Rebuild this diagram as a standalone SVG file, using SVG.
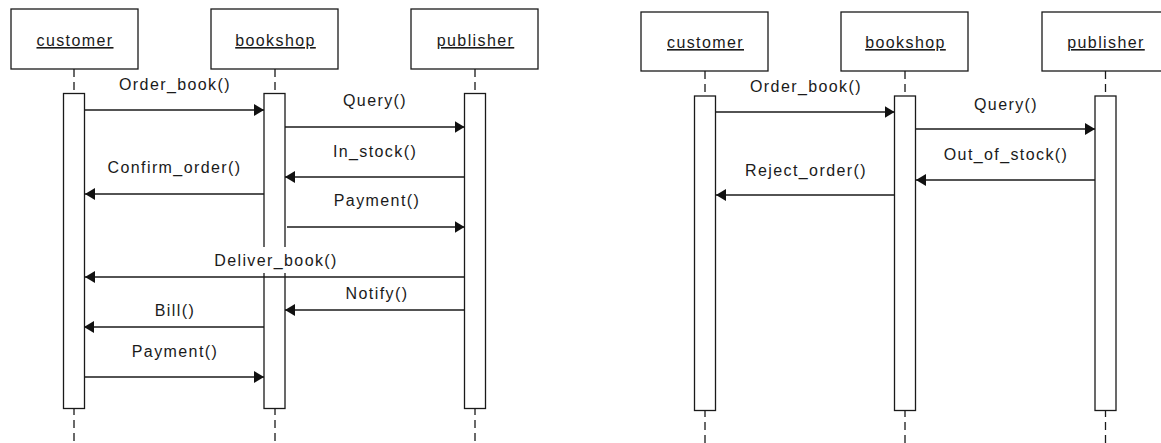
<svg xmlns="http://www.w3.org/2000/svg" width="1161" height="443" viewBox="0 0 1161 443">
<defs>
<style>
.head{fill:#fff;stroke:#1a1a1a;stroke-width:1.3}
.act{fill:#fff;stroke:#1a1a1a;stroke-width:1.3}
.life{stroke:#1a1a1a;stroke-width:1.3;stroke-dasharray:8 5;fill:none}
.msg{stroke:#1a1a1a;stroke-width:1.3;fill:none;marker-end:url(#ah)}
text{font-family:"Liberation Sans",Arial,sans-serif;font-size:16px;letter-spacing:1.4px;fill:#1a1a1a;text-anchor:middle}
.name{text-decoration:underline}
</style>
<marker id="ah" markerUnits="userSpaceOnUse" markerWidth="11" markerHeight="13" refX="10" refY="6" orient="auto">
<path d="M0,0 L10,6 L0,12 z" fill="#111"/>
</marker>
</defs>
<rect width="1161" height="443" fill="#fff"/>

<!-- Left diagram -->
<g id="L_customer">
<line class="life" x1="74" y1="69" x2="74" y2="443"/>
<rect class="head" x="11" y="9" width="127" height="60"/>
<text class="name" x="75" y="46">customer</text>
<rect class="act" x="63.5" y="93.5" width="21" height="315"/>
</g>
<g id="L_bookshop">
<line class="life" x1="275" y1="69" x2="275" y2="443"/>
<rect class="head" x="211" y="9" width="127" height="60"/>
<text class="name" x="275.5" y="46">bookshop</text>
<rect class="act" x="264" y="93.5" width="21" height="315"/>
</g>
<g id="L_publisher">
<line class="life" x1="475" y1="69" x2="475" y2="443"/>
<rect class="head" x="411" y="9" width="127" height="60"/>
<text class="name" x="475.5" y="46">publisher</text>
<rect class="act" x="464.5" y="93.5" width="21" height="315"/>
</g>

<!-- Right diagram -->
<g id="R_customer">
<line class="life" x1="705" y1="71" x2="705" y2="443"/>
<rect class="head" x="641" y="12" width="127" height="59"/>
<text class="name" x="705.5" y="48">customer</text>
<rect class="act" x="694.5" y="96" width="21" height="314.5"/>
</g>
<g id="R_bookshop">
<line class="life" x1="905" y1="71" x2="905" y2="443"/>
<rect class="head" x="841" y="12" width="127" height="59"/>
<text class="name" x="905.5" y="48">bookshop</text>
<rect class="act" x="894.5" y="96" width="21" height="314.5"/>
</g>
<g id="R_publisher">
<line class="life" x1="1105.5" y1="71" x2="1105.5" y2="443"/>
<rect class="head" x="1042" y="12" width="127" height="59"/>
<text class="name" x="1106" y="48">publisher</text>
<rect class="act" x="1095" y="96" width="21" height="314.5"/>
</g>

<g id="connectors">
<!-- left -->
<line class="msg" x1="85" y1="110" x2="264" y2="110"/>
<text x="175" y="90">Order_book()</text>
<line class="msg" x1="285" y1="127" x2="464.5" y2="127"/>
<text x="375" y="106">Query()</text>
<line class="msg" x1="464.5" y1="177" x2="285" y2="177"/>
<text x="375" y="157">In_stock()</text>
<line class="msg" x1="264" y1="194" x2="85" y2="194"/>
<text x="174.5" y="173">Confirm_order()</text>
<line class="msg" x1="287" y1="227" x2="464.5" y2="227"/>
<text x="377" y="206">Payment()</text>
<rect x="211" y="247" width="128" height="26" fill="#fff"/>
<text x="276" y="266">Deliver_book()</text>
<line class="msg" x1="464.5" y1="277" x2="85" y2="277"/>
<line class="msg" x1="464.5" y1="310" x2="285" y2="310"/>
<text x="377" y="299">Notify()</text>
<line class="msg" x1="264" y1="327" x2="84" y2="327"/>
<text x="175" y="316">Bill()</text>
<line class="msg" x1="85" y1="377" x2="264" y2="377"/>
<text x="175" y="357">Payment()</text>
<!-- right -->
<line class="msg" x1="716" y1="112" x2="894.5" y2="112"/>
<text x="806" y="92">Order_book()</text>
<line class="msg" x1="916" y1="129" x2="1095" y2="129"/>
<text x="1006" y="110">Query()</text>
<line class="msg" x1="1095" y1="180" x2="916" y2="180"/>
<text x="1006" y="160">Out_of_stock()</text>
<line class="msg" x1="894.5" y1="195" x2="716" y2="195"/>
<text x="806" y="176">Reject_order()</text>
</g>
</svg>
